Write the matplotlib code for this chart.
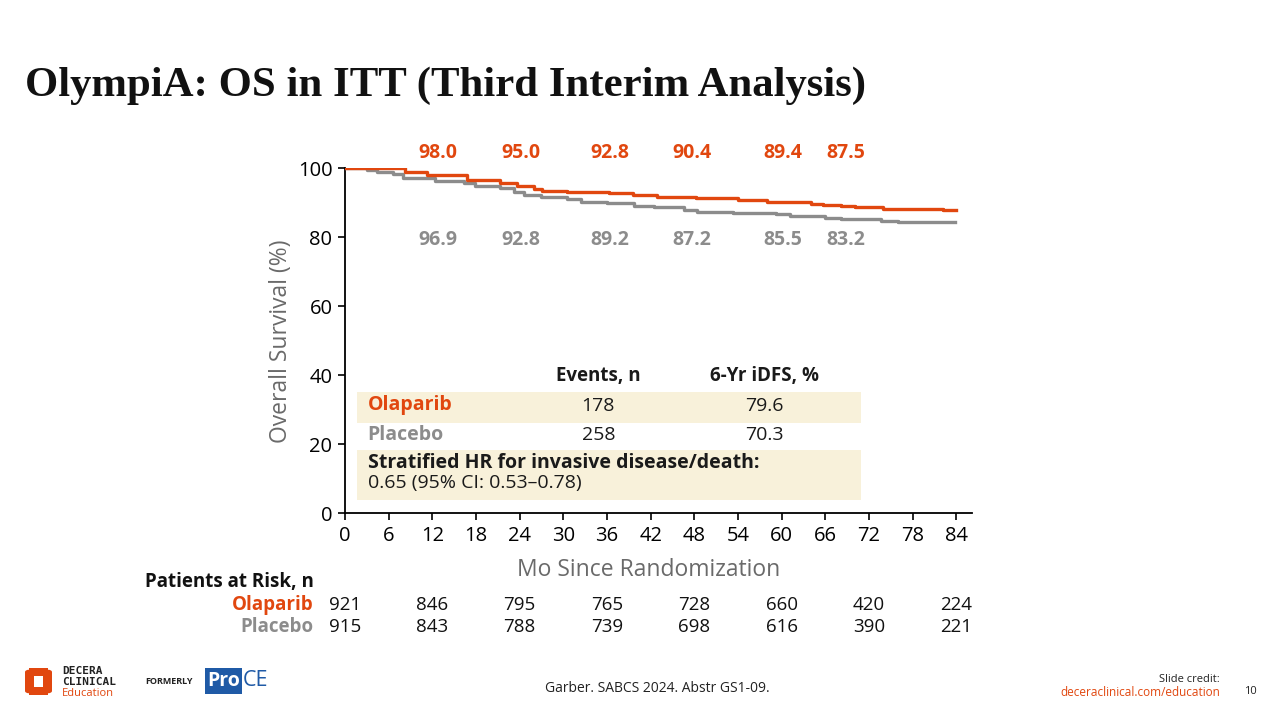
import matplotlib
matplotlib.use("Agg")
import matplotlib.pyplot as plt
from matplotlib.patches import Rectangle, Circle

ORANGE = "#E1470F"
GRAY = "#8C8C8C"
BEIGE = "#F8F1DA"
FONT = ["Open Sans", "DejaVu Sans"]

# Kaplan-Meier steps (months, % alive)
ola_t = [0, 8.3, 11.3, 16.7, 21.3, 23.6, 25.9, 27.1, 30.5, 36.3, 39.5, 42.9,
         48.2, 54.0, 58.0, 64.0, 65.7, 68.2, 70.0, 73.9, 82.2, 83.9]
ola_s = [100, 99.0, 98.1, 96.6, 95.7, 94.9, 94.0, 93.5, 93.2, 92.8, 92.3, 91.6,
         91.3, 90.7, 90.3, 89.7, 89.4, 89.2, 88.7, 88.3, 87.8, 87.8]
pbo_t = [0, 3.0, 4.4, 6.6, 8.0, 12.4, 16.3, 17.9, 21.3, 23.2, 24.6, 26.9, 30.5,
         32.4, 36.0, 39.7, 42.5, 46.6, 48.4, 53.3, 59.2, 61.1, 65.9, 68.2, 73.7,
         76.0, 83.8]
pbo_s = [100, 99.5, 98.8, 98.3, 97.1, 96.3, 95.7, 94.9, 94.2, 93.2, 92.3, 91.6,
         91.0, 90.3, 89.9, 89.2, 88.7, 87.9, 87.4, 87.1, 86.7, 86.1, 85.5, 85.2,
         84.7, 84.4, 84.4]

# yearly landmark labels
land_x = [12.8, 24.2, 36.4, 47.7, 60.2, 68.8]
ola_land = ["98.0", "95.0", "92.8", "90.4", "89.4", "87.5"]
pbo_land = ["96.9", "92.8", "89.2", "87.2", "85.5", "83.2"]

# summary table
tab_cols = ["Events, n", "6-Yr iDFS, %"]
tab_ola = ["178", "79.6"]
tab_pbo = ["258", "70.3"]
hr_head = "Stratified HR for invasive disease/death:"
hr_text = "0.65 (95% CI: 0.53\u20130.78)"

# patients at risk
risk_t = [0, 12, 24, 36, 48, 60, 72, 84]
risk_ola = [921, 846, 795, 765, 728, 660, 420, 224]
risk_pbo = [915, 843, 788, 739, 698, 616, 390, 221]

xticks = list(range(0, 85, 6))
yticks = [0, 20, 40, 60, 80, 100]

W, H = 1280, 720
fig = plt.figure(figsize=(12.8, 7.2), dpi=100)
plt.rcParams["font.family"] = FONT


def px(x, y):
    return x / W, 1 - y / H


x0, x1 = 345, 971.7
y0, y100 = 513.3, 168.3
ax = fig.add_axes([x0 / W, 1 - y0 / H, (x1 - x0) / W, (y0 - y100) / H])
xmax = 86.1
ax.set_xlim(0, xmax)
ax.set_ylim(0, 100)
for s in ["top", "right"]:
    ax.spines[s].set_visible(False)
for s in ["left", "bottom"]:
    ax.spines[s].set_linewidth(1.3)
ax.set_xticks(xticks)
ax.set_yticks(yticks)
ax.tick_params(direction="out", length=5, width=1.2, labelsize=14.5, pad=4)
for lab in ax.get_xticklabels() + ax.get_yticklabels():
    lab.set_family(FONT)

ax.step(pbo_t, pbo_s, where="post", color=GRAY, lw=2.4, zorder=3)
ax.step(ola_t, ola_s, where="post", color=ORANGE, lw=2.4, zorder=4)

for x, a, b in zip(land_x, ola_land, pbo_land):
    ax.text(x, 104.3, a, color=ORANGE, fontsize=14, fontweight="bold",
            ha="center", va="center")
    ax.text(x, 79.1, b, color=GRAY, fontsize=14, fontweight="bold",
            ha="center", va="center")

fig.text(*px(281, 341), "Overall Survival (%)", fontsize=16.5, color="#6A6A6A",
         rotation=90, ha="center", va="center")
fig.text(*px(649, 570), "Mo Since Randomization", fontsize=16.5, color="#6A6A6A",
         ha="center", va="center")

# table boxes
ax.add_patch(Rectangle((1.65, 26.3), 69.3, 9.0, color=BEIGE, zorder=1, lw=0))
ax.add_patch(Rectangle((1.6, 3.9), 69.3, 14.4, color=BEIGE, zorder=1, lw=0))
col_x = [34.8, 57.6]
for cx, head, a, b in zip(col_x, tab_cols, tab_ola, tab_pbo):
    ax.text(cx, 39.8, head, fontsize=13.5, fontweight="bold", ha="center", va="center",
            color="#1A1A1A")
    ax.text(cx, 31.1, a, fontsize=14, ha="center", va="center", color="#1A1A1A")
    ax.text(cx, 22.6, b, fontsize=14, ha="center", va="center", color="#1A1A1A")
ax.text(3.1, 31.3, "Olaparib", fontsize=14, fontweight="bold", color=ORANGE, va="center")
ax.text(3.1, 22.7, "Placebo", fontsize=14, fontweight="bold", color=GRAY, va="center")
ax.text(3.1, 14.5, hr_head, fontsize=14, fontweight="bold", color="#1A1A1A", va="center")
ax.text(3.1, 8.8, hr_text, fontsize=14, color="#1A1A1A", va="center")

# title
fig.text(*px(25, 86), "OlympiA: OS in ITT (Third Interim Analysis)",
         family=["Liberation Serif"], fontweight="bold", fontsize=30.8,
         va="center", ha="left", color="#111111")

# patients at risk
fig.text(*px(145, 582), "Patients at Risk, n", fontsize=13.5, fontweight="bold",
         va="center", ha="left", color="#111111")
fig.text(*px(314, 605), "Olaparib", fontsize=13.5, fontweight="bold",
         va="center", ha="right", color=ORANGE)
fig.text(*px(314, 627), "Placebo", fontsize=13.5, fontweight="bold",
         va="center", ha="right", color=GRAY)
for t, a, b in zip(risk_t, risk_ola, risk_pbo):
    xf = (x0 + (x1 - x0) * t / xmax) / W
    fig.text(xf, 1 - 605 / H, str(a), fontsize=13.5, ha="center", va="center", color="#111111")
    fig.text(xf, 1 - 627 / H, str(b), fontsize=13.5, ha="center", va="center", color="#111111")

# footer
fig.text(*px(657, 688), "Garber. SABCS 2024. Abstr GS1-09.", fontsize=10,
         ha="center", va="center", color="#222222")
fig.text(*px(1220, 679), "Slide credit:", fontsize=8, ha="right", va="center",
         color="#222222")
fig.text(*px(1220, 692), "deceraclinical.com/education", fontsize=8.5, ha="right",
         va="center", color=ORANGE)
fig.text(*px(1250, 692), "10", fontsize=8, ha="center", va="center", color="#222222")


# logos (rough)
def frect(x, y, w, h, c):
    fig.add_artist(Rectangle(px(x, y + h), w / W, h / H, color=c, lw=0,
                             transform=fig.transFigure))


def fcirc(x, y, r, c):
    fig.add_artist(Circle(px(x, y), r / W, color=c, lw=0, transform=fig.transFigure))


frect(29, 668, 19, 27, ORANGE)
frect(25, 672, 27, 19, ORANGE)
for cx, cy in [(29, 672), (48, 672), (29, 691), (48, 691)]:
    fcirc(cx, cy, 4, ORANGE)
frect(34, 676, 9, 11, "white")
logo_font = ["DejaVu Sans Mono"]
fig.text(*px(62, 670.5), "DECERA", fontsize=8, fontweight="bold", color="#222222",
         family=logo_font, va="center", ha="left")
fig.text(*px(62, 682), "CLINICAL", fontsize=8, fontweight="bold", color="#222222",
         family=logo_font, va="center", ha="left")
fig.text(*px(62, 693.5), "Education", fontsize=8, color=ORANGE, va="center", ha="left")
fig.text(*px(145, 682), "FORMERLY", fontsize=6.5, fontweight="bold", color="#222222",
         va="center", ha="left")
frect(205, 668, 37, 26, "#1F5AA6")
fig.text(*px(223.5, 681), "Pro", fontsize=14, fontweight="bold", color="white",
         va="center", ha="center")
fig.text(*px(243, 681), "CE", fontsize=15.5, color="#1F5AA6", va="center", ha="left")

fig.savefig("out.png", dpi=100)
